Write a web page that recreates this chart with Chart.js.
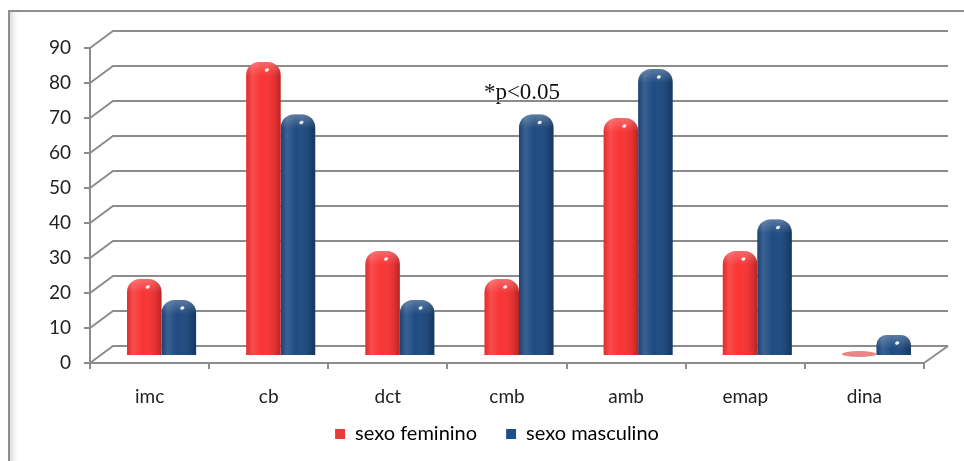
<!DOCTYPE html>
<html>
<head>
<meta charset="utf-8">
<script src="https://cdn.jsdelivr.net/npm/chart.js@4.4.1/dist/chart.umd.min.js"></script>
<style>
  html, body { margin: 0; padding: 0; background: #fff; overflow: hidden; }
  #frame { position: absolute; left: 8px; top: 10px; width: 1200px; height: 800px;
           border: 2px solid #8e8e8e; box-shadow: inset 7px 0 6px -5px #cfcfcf; }
  #wrap { position: absolute; left: 0; top: 0; width: 964px; height: 461px; }
</style>
</head>
<body>
<div id="frame"></div>
<div id="wrap"><canvas id="chart"></canvas></div>
<script>
// Data
const categories = ['imc', 'cb', 'dct', 'cmb', 'amb', 'emap', 'dina'];
const feminino = [22, 84, 30, 22, 68, 30, 0];
const masculino = [16, 69, 16, 69, 82, 39, 6];
const seriesLabels = ['sexo feminino', 'sexo masculino'];
const yMin = 0, yMax = 90, yStep = 10;
const noteText = '*p<0.05';
const noteCategory = 'cmb';
const noteValue = 75.5;

const FONT = 'Lato, "Open Sans", sans-serif';
const GRID = '#8c8c8c';
// perspective depth of the back wall and of the bar row
const WALL = { dx: 23, dy: -17 };
const BARS = { dx: 12, dy: -7 };
// where the legend row sits
const LEGEND_POS = { centerX: 497, itemY: 434 };

const wallPlugin = {
    id: 'wall3d',
    beforeInit(chart) {
        // fixed legend box height so the plot keeps its size
        const originalFit = chart.legend.fit;
        chart.legend.fit = function fit() {
            originalFit.bind(chart.legend)();
            this.height = 50;
        };
    },
    afterLayout(chart) {
        const lg = chart.legend;
        const pad = lg.options.labels.padding;
        const fs = lg.options.labels.font.size;
        const dx = LEGEND_POS.centerX - (lg.left + lg.right) / 2;
        const top = LEGEND_POS.itemY - pad - fs / 2;
        const dy = top - lg.top;
        lg.left += dx; lg.right += dx;
        lg.top += dy; lg.bottom += dy;
    },
    beforeDatasetsDraw(chart) {
        const { ctx, chartArea, scales } = chart;
        const y = scales.y;

        // note sits behind the wall lines
        const nx = scales.x.getPixelForValue(categories.indexOf(noteCategory));
        const ny = y.getPixelForValue(noteValue);
        ctx.save();
        ctx.font = '23px "Liberation Serif", "Times New Roman", serif';
        ctx.fillStyle = '#111';
        ctx.textAlign = 'center';
        ctx.textBaseline = 'alphabetic';
        ctx.fillText(noteText, nx + BARS.dx + 3, ny);
        ctx.restore();

        ctx.save();
        ctx.strokeStyle = GRID;
        ctx.lineWidth = 2;
        y.ticks.forEach(t => {
            const py = y.getPixelForValue(t.value);
            ctx.beginPath();
            ctx.moveTo(chartArea.left, py);
            ctx.lineTo(chartArea.left + WALL.dx, py + WALL.dy);
            ctx.lineTo(chartArea.right + WALL.dx + 1, py + WALL.dy);
            ctx.stroke();
        });
        // right edge of the floor
        const p0 = y.getPixelForValue(0);
        ctx.beginPath();
        ctx.moveTo(chartArea.right, p0);
        ctx.lineTo(chartArea.right + WALL.dx + 1, p0 + WALL.dy);
        ctx.stroke();
        ctx.restore();

        // bars sit halfway into the depth
        ctx.save();
        ctx.translate(BARS.dx, BARS.dy);
    },
    afterDatasetsDraw(chart) {
        const { ctx } = chart;
        chart.data.datasets.forEach((ds, di) => {
            const meta = chart.getDatasetMeta(di);
            meta.data.forEach((el, i) => {
                const w = el.width;
                const x0 = el.x - w / 2;
                if (ds.data[i] === 0) {
                    // flat disc for a zero value
                    ctx.save();
                    ctx.fillStyle = 'rgba(226, 92, 92, 0.75)';
                    ctx.beginPath();
                    ctx.ellipse(el.x, el.base - 2, w / 2, 3, 0, 0, Math.PI * 2);
                    ctx.fill();
                    ctx.restore();
                    return;
                }
                const h = el.base - el.y;
                const r = Math.min(13, h / 2);
                ctx.save();
                ctx.beginPath();
                ctx.roundRect(x0, el.y, w, h, [r, r, 0, 0]);
                ctx.clip();
                const g = ctx.createLinearGradient(x0, 0, x0 + w, 0);
                g.addColorStop(0, 'rgba(0,0,0,0.10)');
                g.addColorStop(0.18, 'rgba(255,255,255,0.12)');
                g.addColorStop(0.45, 'rgba(255,255,255,0.0)');
                g.addColorStop(0.85, 'rgba(0,0,0,0.10)');
                g.addColorStop(1, 'rgba(0,0,0,0.28)');
                ctx.fillStyle = g;
                ctx.fillRect(x0, el.y, w, h);
                // top cap shading
                const gt = ctx.createLinearGradient(0, el.y, 0, el.y + 14);
                gt.addColorStop(0, 'rgba(255,255,255,0.25)');
                gt.addColorStop(1, 'rgba(255,255,255,0)');
                ctx.fillStyle = gt;
                ctx.fillRect(x0, el.y, w, 14);
                // glint
                ctx.fillStyle = 'rgba(255,255,255,0.9)';
                ctx.beginPath();
                ctx.ellipse(el.x + w * 0.1, el.y + 8, 2.2, 1.6, -0.5, 0, Math.PI * 2);
                ctx.fill();
                ctx.restore();
            });
        });
        ctx.restore();
    }
};

new Chart(document.getElementById('chart').getContext('2d'), {
    type: 'bar',
    data: {
        labels: categories,
        datasets: [
            {
                label: seriesLabels[0],
                data: feminino,
                backgroundColor: '#f93434',
                borderSkipped: 'bottom',
                borderRadius: { topLeft: 13, topRight: 13 },
                categoryPercentage: 0.58,
                barPercentage: 1.0
            },
            {
                label: seriesLabels[1],
                data: masculino,
                backgroundColor: '#1f4b82',
                borderSkipped: 'bottom',
                borderRadius: { topLeft: 13, topRight: 13 },
                categoryPercentage: 0.58,
                barPercentage: 1.0
            }
        ]
    },
    plugins: [wallPlugin],
    options: {
        responsive: true,
        maintainAspectRatio: false,
        animation: false,
        layout: { padding: { top: 48, right: 40, bottom: 0, left: 0 } },
        plugins: {
            legend: {
                position: 'bottom',
                labels: {
                    color: '#222',
                    font: { family: FONT, size: 20 },
                    boxWidth: 10,
                    boxHeight: 10,
                    padding: 29,
                    generateLabels: (chart) => chart.data.datasets.map((ds, i) => ({
                        text: ds.label,
                        fillStyle: i === 0 ? '#e83a3a' : '#1f4e8c',
                        strokeStyle: i === 0 ? '#e83a3a' : '#1f4e8c',
                        lineWidth: 0,
                        datasetIndex: i
                    }))
                }
            },
            tooltip: { enabled: false }
        },
        scales: {
            x: {
                afterFit: (scale) => { scale.height = 48; },
                grid: {
                    drawOnChartArea: false,
                    drawTicks: true,
                    tickLength: 6,
                    color: GRID,
                    lineWidth: 2
                },
                border: { display: true, color: GRID, width: 2 },
                ticks: {
                    color: '#222',
                    padding: 16,
                    font: { family: FONT, size: 19 }
                }
            },
            y: {
                min: yMin,
                max: yMax,
                afterFit: (scale) => { scale.width = 90; },
                grid: {
                    drawOnChartArea: false,
                    drawTicks: true,
                    tickLength: 6,
                    color: GRID,
                    lineWidth: 2
                },
                border: { display: true, color: GRID, width: 2 },
                ticks: {
                    stepSize: yStep,
                    color: '#222',
                    padding: 13,
                    font: { family: FONT, size: 19 }
                }
            }
        }
    }
});
</script>
</body>
</html>
